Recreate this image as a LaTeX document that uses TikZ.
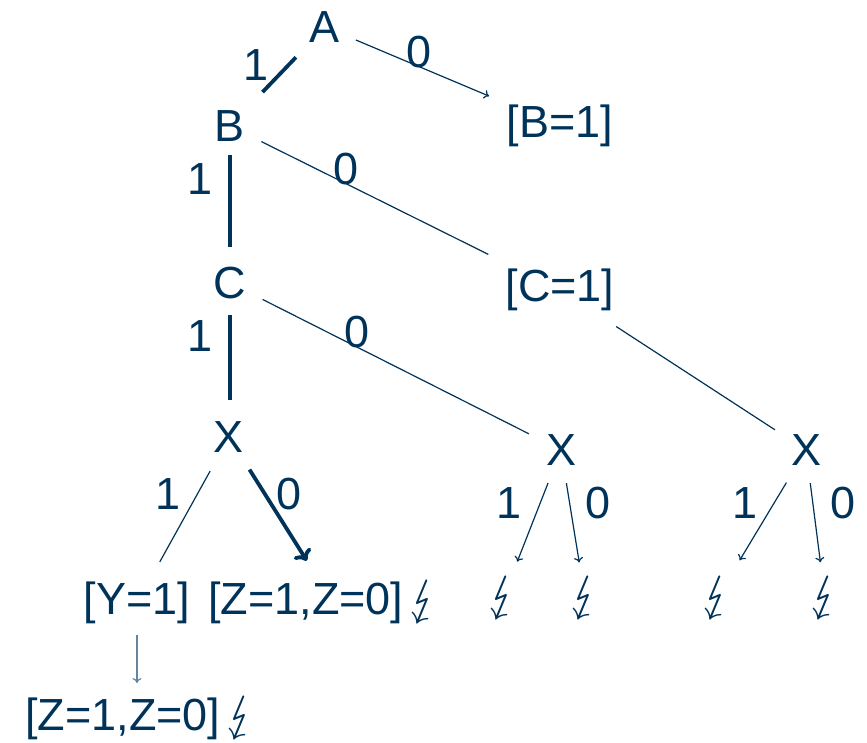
\documentclass[tikz,border=0pt]{standalone}
\usepackage{fontspec}
\setmainfont{Liberation Sans}
\usepackage{graphicx}
\usepackage{stmaryrd}
\usetikzlibrary{arrows.meta}
\definecolor{navy}{HTML}{00335A}
\newcommand{\zap}{\scalebox{2}{$\lightning$}}
\newcommand{\zapin}{\smash{\zap}}
\begin{document}
\begin{tikzpicture}[x=1pt,y=-1pt,
  every node/.style={font=\fontsize{45}{54}\selectfont, text=navy, inner sep=0pt},
  lnk/.style={draw=navy, line width=1.2pt},
  lnkfat/.style={draw=navy, line width=3.8pt},
  tipthin/.style={-{To[length=5pt,width=9pt]}},
  tipfat/.style={-{To[length=10pt,width=20pt]}},
  lbl/.style={},
  zapnode/.style={}]
\useasboundingbox (0,0) rectangle (867,743);
% nodes
\node (A) at (325,27) {A};
\node (BB) at (560,126) {[B=1]};
\node (B) at (230,126) {B};
\node (C) at (230,283) {C};
\node (CC) at (560,290) {[C=1]};
\node (X1) at (229,437) {X};
\node (X2) at (561,450) {X};
\node (X3) at (806,450) {X};
\node (Y) at (137,603) {[Y=1]};
\node[anchor=west] (Z1) at (208,603) {[Z=1,Z=0]\kern5pt\zapin};
\node[zapnode] (L1) at (503,598) {\zap};
\node[zapnode] (L2) at (585,598) {\zap};
\node[zapnode] (L3) at (717,598) {\zap};
\node[zapnode] (L4) at (825,598) {\zap};
\node[anchor=west] (Z2) at (25,719) {[Z=1,Z=0]\kern5pt\zapin};
% edges
\draw[lnkfat, shorten <=42pt, shorten >=47pt] (A.center) -- (B.center);
\draw[lnk, tipthin, shorten <=33.5pt, shorten >=77pt] (A.center) -- (BB.center);
\draw[lnkfat, shorten <=29pt, shorten >=36pt] (B.center) -- (C.center);
\draw[lnk, shorten <=35pt, shorten >=80pt] (B.center) -- (CC.center);
\draw[lnkfat, shorten <=32pt, shorten >=37pt] (C.center) -- (C.center |- X1.center);
\draw[lnk, shorten <=36.5pt, shorten >=36pt] (C.center) -- (X2.center);
\draw[lnk, shorten <=67pt, shorten >=37pt] (CC.center) -- (X3.center);
\draw[lnk, shorten <=39pt, shorten >=47pt] (X1.center) -- (Y.center);
\draw[lnkfat, tipfat, shorten <=38.5pt, shorten >=50pt] (X1.center) -- ([xshift=10pt]Z1.center);
\draw[lnk, tipthin, shorten <=35.5pt, shorten >=39pt] (X2.center) -- (L1.center);
\draw[lnk, tipthin, shorten <=33.5pt, shorten >=36pt] (X2.center) -- (L2.center);
\draw[lnk, tipthin, shorten <=38pt, shorten >=44pt] (X3.center) -- (L3.center);
\draw[lnk, tipthin, shorten <=33.4pt, shorten >=36pt] (X3.center) -- (L4.center);
\draw[lnk, draw=navy!60, tipthin, shorten <=32pt, shorten >=36pt] (Y.center) -- (Y.center |- Z2.center);
% labels
\node[lbl] (lAB) at (256,65) {1};
\node[lbl] (lABB) at (419,52) {0};
\node[lbl] (lBC) at (200,179) {1};
\node[lbl] (lBCC) at (346,169) {0};
\node[lbl] (lCX) at (200,336) {1};
\node[lbl] (lCX2) at (357,332) {0};
\node[lbl] (lXY) at (168,494) {1};
\node[lbl] (lXZ) at (289,494) {0};
\node[lbl] (lX2a) at (509,503) {1};
\node[lbl] (lX2b) at (598,503) {0};
\node[lbl] (lX3a) at (745,503) {1};
\node[lbl] (lX3b) at (843,503) {0};
\end{tikzpicture}
\end{document}
